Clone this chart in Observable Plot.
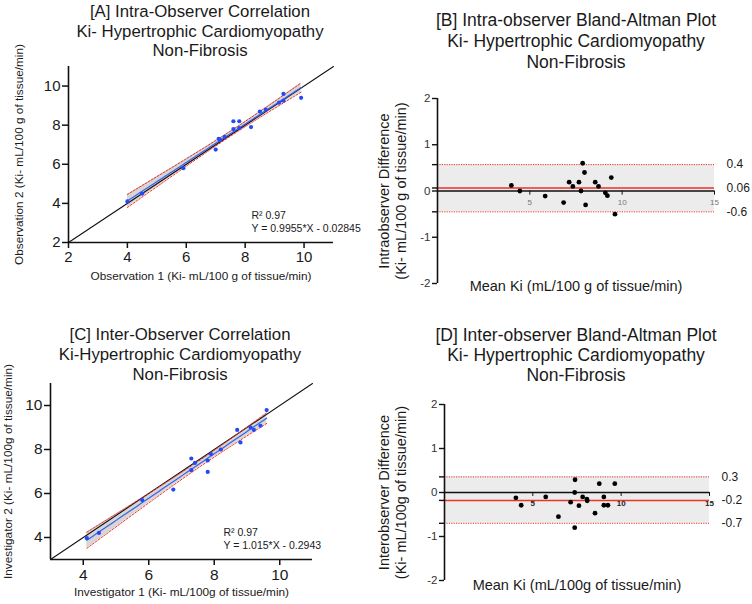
<!DOCTYPE html>
<html><head><meta charset="utf-8">
<script src="https://cdn.jsdelivr.net/npm/d3@7"></script>
<script src="https://cdn.jsdelivr.net/npm/@observablehq/plot@0.6"></script>
<style>
body{margin:0;background:#fff;font-family:"Liberation Sans",Arial,sans-serif;}
#root{position:relative;width:752px;height:604px;overflow:hidden;background:#fff;}
.panel{position:absolute;width:376px;height:302px;}
.panel svg{position:absolute;left:0;top:0;}
.title{position:absolute;text-align:center;color:#1a1a1a;white-space:nowrap;transform:translateX(-50%);z-index:2;}
</style></head><body><div id="root"></div>
<script>
// ---------- data ----------
// [A] intra-observer correlation
const intraObs1 = [4.0, 4.5, 5.9, 7.0, 7.1, 7.15, 7.3, 7.6, 7.8, 7.6, 7.8, 8.2, 8.5, 8.7, 9.15, 9.3, 9.3, 9.9];
const intraObs2 = [4.1, 4.5, 5.8, 6.75, 7.3, 7.25, 7.4, 8.2, 8.2, 7.8, 7.85, 7.9, 8.7, 8.8, 9.15, 9.6, 9.25, 9.4];
const intraEquation = ["R\u00b2 0.97", "Y = 0.9955*X - 0.02845"];
// [B] intra-observer Bland-Altman
const intraMean = [4.0, 4.46, 5.83, 6.83, 7.13, 7.33, 7.66, 7.77, 7.86, 7.96, 8.02, 8.54, 8.72, 9.09, 9.2, 9.41, 9.61];
const intraDiff = [0.12, 0.0, -0.11, -0.25, 0.19, 0.1, 0.19, 0.0, 0.6, 0.4, -0.3, 0.19, 0.1, -0.04, -0.1, 0.29, -0.5];
const intraLimits = [0.57, 0.065, -0.45];
const intraLimitLabels = ["0.4", "0.06", "-0.6"];
// [C] inter-observer correlation
const interInv1 = [4.11, 4.48, 5.8, 6.75, 7.3, 7.3, 7.41, 7.8, 7.8, 7.9, 8.2, 8.7, 8.8, 9.11, 9.21, 9.41, 9.6];
const interInv2 = [3.97, 4.21, 5.7, 6.18, 7.59, 7.06, 7.39, 7.5, 6.98, 7.79, 8.0, 8.89, 8.32, 9.0, 8.89, 9.08, 9.79];
const interEquation = ["R\u00b2 0.97", "Y = 1.015*X - 0.2943"];
// [D] inter-observer Bland-Altman
const interMean = [4.04, 4.34, 5.73, 6.45, 7.14, 7.39, 7.37, 7.37, 7.61, 7.82, 8.06, 8.08, 8.52, 8.76, 9.02, 9.02, 9.25, 9.64];
const interDiff = [-0.12, -0.29, -0.10, -0.55, -0.22, 0.29, 0.0, -0.80, -0.30, -0.10, -0.15, -0.19, -0.47, 0.2, -0.10, -0.29, -0.29, 0.2];
const interLimits = [0.355, -0.18, -0.70];
const interLimitLabels = ["0.3", "-0.2", "-0.7"];
// axes
const corrTicksA = [2, 4, 6, 8, 10];
const corrTicksC = [4, 6, 8, 10];
const identityA = [2, 11];
const identityC = [3, 11];
const baYTicks = [-2, -1, 0, 1, 2];
const baXTicks = [5, 10, 15];

// ---------- helpers ----------
const FONT = '"Liberation Sans", Arial, sans-serif';
const BLUE = "#2449f5", LINEBLUE = "#3a62e8", RED = "#ec3326";
function tq(df){const z=1.959964;return z+(z**3+z)/(4*df)+(5*z**5+16*z**3+3*z)/(96*df*df);}
function fit(xs, ys){
  const n=xs.length, mx=d3.mean(xs), my=d3.mean(ys);
  let sxx=0,sxy=0; xs.forEach((x,i)=>{sxx+=(x-mx)**2; sxy+=(x-mx)*(ys[i]-my);});
  const b=sxy/sxx, a=my-b*mx;
  let sse=0; xs.forEach((x,i)=>{sse+=(ys[i]-a-b*x)**2;});
  const s=Math.sqrt(sse/(n-2)), t=tq(n-2);
  const [x0,x1]=d3.extent(xs);
  return d3.range(0,61).map(i=>{const x=x0+(x1-x0)*i/60, yh=a+b*x, se=s*Math.sqrt(1/n+(x-mx)**2/sxx);
    return {x, y:yh, lo:yh-t*se, hi:yh+t*se};});
}
const root=document.getElementById("root");
function panel(left, top, titleLines, titleX, titleTop, titleSize, titleLH, svg){
  const p=document.createElement("div"); p.className="panel"; p.style.left=left+"px"; p.style.top=top+"px";
  p.appendChild(svg);
  const t=document.createElement("div"); t.className="title"; t.style.left=titleX+"px"; t.style.top=titleTop+"px";
  t.style.fontSize=titleSize+"px"; t.style.lineHeight=titleLH+"px";
  t.innerHTML=titleLines.join("<br>"); p.appendChild(t);
  root.appendChild(p);
}

function corrPlot({xs, ys, ticks, identity, domain, margins, eq, eqDx, xLabel, yLabel, yLabelDx, xLabelDy, tickFont}){
  const pts=xs.map((x,i)=>({x, y:ys[i]}));
  const f=fit(xs, ys);
  return Plot.plot({
    width:376, height:302, ...margins,
    style:{fontFamily:FONT, color:"#1a1a1a", background:"transparent"},
    x:{domain, axis:null}, y:{domain, axis:null},
    marks:[
      Plot.areaY(f,{x:"x", y1:"lo", y2:"hi", fill:"#d6d6d6"}),
      Plot.line(identity,{x:d=>d, y:d=>d, stroke:"#111", strokeWidth:1.1}),
      Plot.line(f,{x:"x", y:"hi", stroke:RED, strokeWidth:1, strokeDasharray:"2,1.5"}),
      Plot.line(f,{x:"x", y:"lo", stroke:RED, strokeWidth:1, strokeDasharray:"2,1.5"}),
      Plot.line(f,{x:"x", y:"y", stroke:LINEBLUE, strokeWidth:1.2}),
      Plot.dot(pts,{x:"x", y:"y", r:2.1, fill:BLUE, stroke:"none"}),
      Plot.ruleX([domain[0]],{stroke:"#111", strokeWidth:1.6}),
      Plot.ruleY([domain[0]],{stroke:"#111", strokeWidth:1.6}),
      Plot.axisX({ticks, tickSize:6, tickPadding:3, fontSize:tickFont, stroke:"#111", strokeWidth:1.5, label:null, tickFormat:d=>d}),
      Plot.axisY({ticks, tickSize:6, tickPadding:2, fontSize:tickFont, stroke:"#111", strokeWidth:1.5, label:null, tickFormat:d=>d}),
      Plot.text([eq[0]],{frameAnchor:"bottom-right", textAnchor:"start", dx:eqDx, dy:-24, fontSize:10.5, fill:"#1a1a1a"}),
      Plot.text([eq[1]],{frameAnchor:"bottom-right", textAnchor:"start", dx:eqDx, dy:-11, fontSize:10.5, fill:"#1a1a1a"}),
      Plot.text([xLabel],{frameAnchor:"bottom", textAnchor:"middle", dy:xLabelDy, fontSize:11.8, fill:"#1a1a1a"}),
      Plot.text([yLabel],{frameAnchor:"left", textAnchor:"middle", rotate:-90, dx:yLabelDx, fontSize:11.8, fill:"#1a1a1a"})
    ]
  });
}

function baPlot({means, diffs, limits, limitLabels, margins, yLabels, yLabelDx, xLabel, xLabelDy, xTickStyle}){
  const pts=means.map((m,i)=>({x:m, y:diffs[i]}));
  const [up, bias, lo]=limits;
  const labs=limits.map((v,i)=>({v, t:limitLabels[i]}));
  return Plot.plot({
    width:376, height:302, ...margins,
    style:{fontFamily:FONT, color:"#1a1a1a", background:"transparent"},
    x:{domain:[0,15], axis:null}, y:{domain:[-2,2], axis:null},
    marks:[
      Plot.rect([{y1:lo, y2:up}],{x1:()=>0, x2:()=>15, y1:"y1", y2:"y2", fill:"#ececec"}),
      Plot.ruleY([up, lo],{x1:0, x2:15, stroke:RED, strokeWidth:1, strokeDasharray:"1.2,1.2"}),
      Plot.ruleY([0],{x1:0, x2:15, stroke:"#111", strokeWidth:1.4}),
      Plot.ruleY([bias],{x1:0, x2:15, stroke:RED, strokeWidth:1.5}),
      Plot.ruleX(baXTicks,{y1:0, y2:-0.09, stroke:"#111", strokeWidth:1}),
      Plot.text(baXTicks,{x:d=>d, y:0, dy:11, fontSize:8, ...xTickStyle}),
      Plot.dot(pts,{x:"x", y:"y", r:2.4, fill:"#000", stroke:"none"}),
      Plot.ruleX([0],{stroke:"#111", strokeWidth:1.6}),
      Plot.axisY({ticks:[...baYTicks, ...limits], tickSize:5, tickPadding:2, fontSize:11.5, stroke:"#111", strokeWidth:1.4, label:null,
        tickFormat:d=>baYTicks.includes(d) ? d : "", fill:"#333"}),
      Plot.text(labs,{y:"v", text:"t", frameAnchor:"right", dx:12, textAnchor:"start", fontSize:12, fill:"#1a1a1a"}),
      Plot.text([yLabels[0]],{frameAnchor:"left", textAnchor:"middle", rotate:-90, dx:yLabelDx[0], fontSize:14.5, fill:"#1a1a1a"}),
      Plot.text([yLabels[1]],{frameAnchor:"left", textAnchor:"middle", rotate:-90, dx:yLabelDx[1], fontSize:14.5, fill:"#1a1a1a"}),
      Plot.text([xLabel],{frameAnchor:"bottom", textAnchor:"middle", dy:xLabelDy, fontSize:14.5, fill:"#1a1a1a"})
    ]
  });
}

// ---------- panels ----------
panel(0, 0, ["[A] Intra-Observer Correlation","Ki- Hypertrophic Cardiomyopathy","Non-Fibrosis"], 200, 2, 16.8, 19.5,
  corrPlot({xs:intraObs1, ys:intraObs2, ticks:corrTicksA, identity:identityA, domain:[2,11],
    margins:{marginLeft:68, marginRight:43, marginTop:66, marginBottom:60},
    eq:intraEquation, eqDx:-82, xLabel:"Observation 1 (Ki- mL/100 g of tissue/min)",
    yLabel:"Observation 2 (Ki- mL/100 g of tissue/min)", yLabelDx:-49, xLabelDy:37, tickFont:15}));

panel(376, 0, ["[B] Intra-observer Bland-Altman Plot","Ki- Hypertrophic Cardiomyopathy","Non-Fibrosis"], 200, 10, 17.5, 21,
  baPlot({means:intraMean, diffs:intraDiff, limits:intraLimits, limitLabels:intraLimitLabels,
    margins:{marginLeft:61, marginRight:38, marginTop:98, marginBottom:19},
    yLabels:["Intraobserver Difference","(Ki- mL/100 g of tissue/min)"], yLabelDx:[-53,-36],
    xLabel:"Mean Ki (mL/100 g of tissue/min)", xLabelDy:7, xTickStyle:{fill:"#777"}}));

panel(0, 302, ["[C] Inter-Observer Correlation","Ki-Hypertrophic Cardiomyopathy","Non-Fibrosis"], 180, 23, 16.8, 20,
  corrPlot({xs:interInv1, ys:interInv2, ticks:corrTicksC, identity:identityC, domain:[3,11],
    margins:{marginLeft:50, marginRight:64, marginTop:81, marginBottom:45},
    eq:interEquation, eqDx:-89, xLabel:"Investigator 1 (Ki- mL/100g of tissue/min)",
    yLabel:"Investigator 2 (Ki- mL/100g of tissue/min)", yLabelDx:-42, xLabelDy:36, tickFont:15.5}));

panel(376, 302, ["[D] Inter-observer Bland-Altman Plot","Ki- Hypertrophic Cardiomyopathy","Non-Fibrosis"], 200, 23, 17.5, 20,
  baPlot({means:interMean, diffs:interDiff, limits:interLimits, limitLabels:interLimitLabels,
    margins:{marginLeft:68, marginRight:43, marginTop:102, marginBottom:24},
    yLabels:["Interobserver Difference","(Ki- mL/100g of tissue/min)"], yLabelDx:[-60,-43],
    xLabel:"Mean Ki (mL/100g of tissue/min)", xLabelDy:9, xTickStyle:{fill:"#222", fontWeight:"bold"}}));
</script></body></html>
